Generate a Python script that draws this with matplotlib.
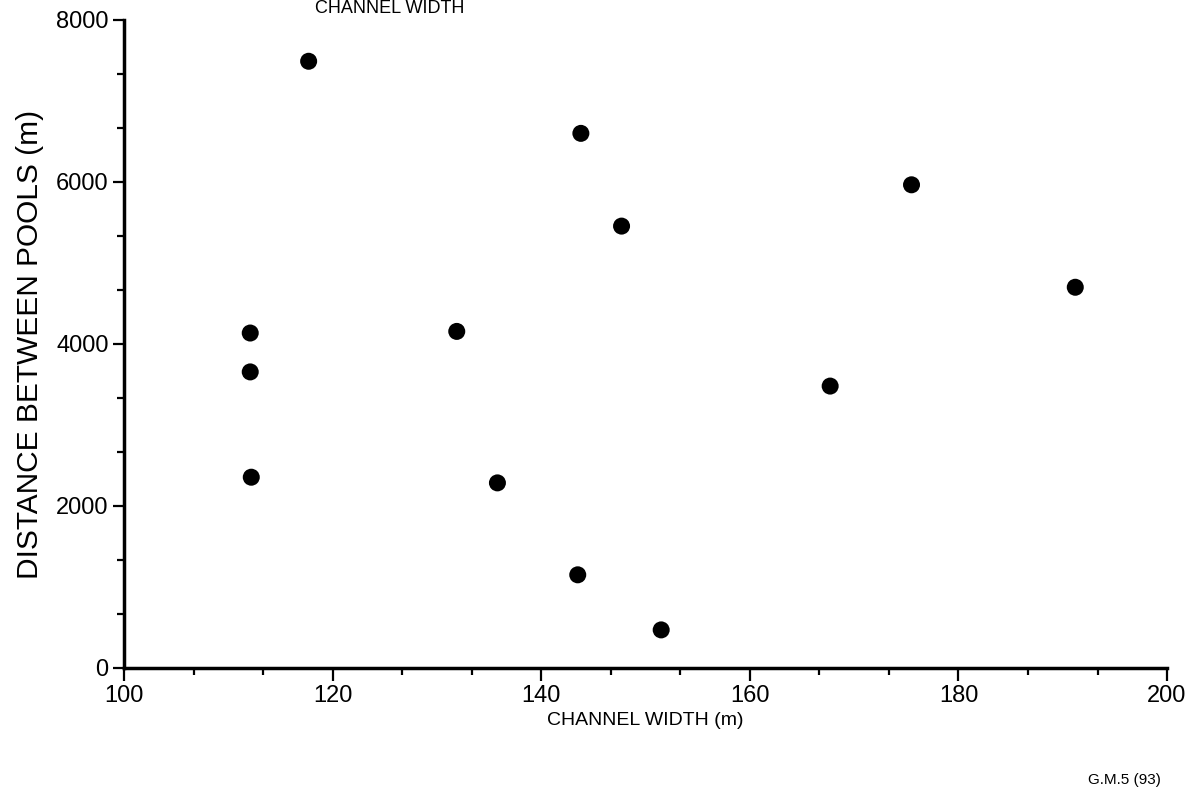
import matplotlib
matplotlib.use("Agg")
import matplotlib.pyplot as plt
from matplotlib.ticker import MultipleLocator

plt.rcParams['font.family'] = ['Liberation Sans', 'DejaVu Sans']

# channel width (m) vs distance between pools (m)
channel_width = [117.7, 143.8, 147.7, 175.5, 191.2, 112.1, 131.9,
                 112.1, 167.7, 112.2, 135.8, 143.5, 151.5]
pool_distance = [7490, 6600, 5455, 5965, 4700, 4135, 4155,
                 3655, 3480, 2355, 2285, 1150, 470]

x_ticks = [100, 120, 140, 160, 180, 200]
y_ticks = [0, 2000, 4000, 6000, 8000]

fig = plt.figure(figsize=(11.96, 7.89), dpi=100)
ax = fig.add_axes([0.1037, 0.1534, 0.8721, 0.8213])

ax.scatter(channel_width, pool_distance, s=150, c='black', edgecolors='none',
           zorder=3, clip_on=False)

ax.set_xlim(100, 200)
ax.set_ylim(0, 8000)
ax.set_xticks(x_ticks)
ax.set_yticks(y_ticks)
ax.xaxis.set_minor_locator(MultipleLocator(20 / 3))
ax.yaxis.set_minor_locator(MultipleLocator(2000 / 3))

for s in ['top', 'right']:
    ax.spines[s].set_visible(False)
for s in ['left', 'bottom']:
    ax.spines[s].set_linewidth(2.5)

ax.tick_params(axis='both', which='major', direction='out', width=1.6,
               labelsize=17, pad=3)
ax.tick_params(axis='x', which='major', length=9)
ax.tick_params(axis='y', which='major', length=8)
ax.tick_params(axis='both', which='minor', direction='out', width=1.6, length=5)

ax.set_xlabel('CHANNEL WIDTH (m)', fontsize=14, labelpad=4)
ax.set_ylabel('DISTANCE BETWEEN POOLS (m)', fontsize=21.5, labelpad=9)

# title sits at the very top edge of the scan
fig.text(0.263, 1.0, 'CHANNEL WIDTH', fontsize=13, va='top', ha='left')
fig.text(0.91, 0.002, 'G.M.5 (93)', fontsize=11, va='bottom', ha='left')

fig.savefig('out.png', dpi=100, facecolor='white')
